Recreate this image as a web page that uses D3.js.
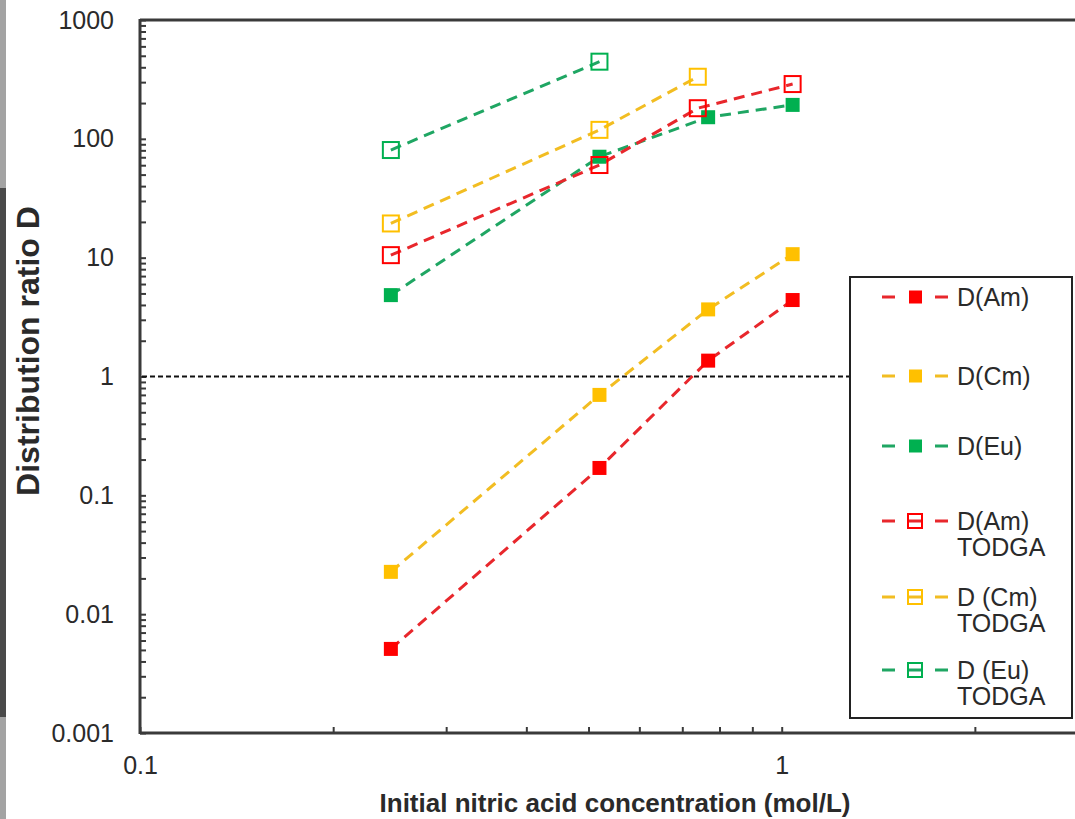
<!DOCTYPE html>
<html>
<head>
<meta charset="utf-8">
<script src="https://cdn.jsdelivr.net/npm/d3@7"></script>
<style>
  html, body { margin: 0; padding: 0; background: #fff; }
  svg { display: block; font-family: "Liberation Sans", Arial, sans-serif; }
</style>
</head>
<body>
<svg id="chart" width="1075" height="819"></svg>
<script>
// ---- data ----
const xFilled = [0.246, 0.52, 0.768, 1.04];
const dAm = [0.0051, 0.17, 1.36, 4.4];
const dCm = [0.0227, 0.70, 3.67, 10.7];
const dEu = [4.84, 70.7, 152, 193];
const xAmTodga = [0.246, 0.52, 0.74, 1.04];
const dAmTodga = [10.5, 60.2, 181, 289];
const xCmTodga = [0.246, 0.52, 0.74];
const dCmTodga = [19.4, 119, 333];
const xEuTodga = [0.246, 0.52];
const dEuTodga = [80.5, 446];

const seriesNames = ["D(Am)", "D(Cm)", "D(Eu)", "D(Am)\nTODGA", "D (Cm)\nTODGA", "D (Eu)\nTODGA"];
const yTickLabels = ["0.001", "0.01", "0.1", "1", "10", "100", "1000"];
const xTickLabels = ["0.1", "1"];
const refLine = 1;

const xTitle = "Initial nitric acid concentration (mol/L)";
const yTitle = "Distribution ratio D";

// ---- styling ----
const colRed = "#ff0000", colGold = "#ffc000", colGreen = "#00b050";
const lineRed = "#e8272c", lineGold = "#f2bd22", lineGreen = "#1fa663";

const series = [
  { name: seriesNames[0], xs: xFilled, ys: dAm, color: colRed, line: lineRed, open: false },
  { name: seriesNames[1], xs: xFilled, ys: dCm, color: colGold, line: lineGold, open: false },
  { name: seriesNames[2], xs: xFilled, ys: dEu, color: colGreen, line: lineGreen, open: false },
  { name: seriesNames[3], xs: xAmTodga, ys: dAmTodga, color: colRed, line: lineRed, open: true },
  { name: seriesNames[4], xs: xCmTodga, ys: dCmTodga, color: colGold, line: lineGold, open: true },
  { name: seriesNames[5], xs: xEuTodga, ys: dEuTodga, color: colGreen, line: lineGreen, open: true }
];

const svg = d3.select("#chart");
const W = 1075, H = 819;
const mLeft = 140, mTop = 20, mBottom = 733;
const decadeX = 641.7;

const x = d3.scaleLog().domain([0.1, 10]).range([mLeft, mLeft + 2 * decadeX]);
const y = d3.scaleLog().domain([0.001, 1000]).range([mBottom, mTop]);

const axisColor = "#3a3a3a";
const textColor = "#2a2a2a";

// decorative edge bar at far left
svg.append("rect").attr("x", 0).attr("y", 0).attr("width", 6).attr("height", H).attr("fill", "#a3a3a3");
svg.append("rect").attr("x", 0).attr("y", 188).attr("width", 6).attr("height", 529).attr("fill", "#4a4a4a");

// ---- axes ----
const yMajor = yTickLabels.map(Number);
const yMinor = [];
for (let e = -3; e < 3; e++) for (let m = 2; m <= 9; m++) yMinor.push(m * Math.pow(10, e));
const xMajor = xTickLabels.map(Number);
const xMinor = [];
for (let e = -1; e < 1; e++) for (let m = 2; m <= 9; m++) xMinor.push(m * Math.pow(10, e));

const gy = svg.append("g").attr("transform", `translate(${mLeft},0)`);
gy.call(d3.axisLeft(y).tickValues(yMinor).tickSize(-6).tickSizeOuter(0).tickFormat(""));
gy.select(".domain").remove();
const gy2 = svg.append("g").attr("transform", `translate(${mLeft},0)`);
gy2.call(d3.axisLeft(y).tickValues(yMajor).tickSize(-6).tickSizeOuter(0).tickPadding(26)
  .tickFormat((d, i) => yTickLabels[i]));
gy2.select(".domain").remove();
gy2.selectAll("text").attr("font-size", 25).attr("fill", textColor).attr("font-family", "'Liberation Sans', Arial, sans-serif");

const gx = svg.append("g").attr("transform", `translate(0,${mBottom})`);
gx.call(d3.axisBottom(x).tickValues(xMinor).tickSize(-6).tickSizeOuter(0).tickFormat(""));
gx.select(".domain").remove();
const gx2 = svg.append("g").attr("transform", `translate(0,${mBottom})`);
gx2.call(d3.axisBottom(x).tickValues(xMajor).tickSize(-6).tickSizeOuter(0).tickPadding(23)
  .tickFormat((d, i) => xTickLabels[i]));
gx2.select(".domain").remove();
gx2.selectAll("text").attr("font-size", 25).attr("fill", textColor).attr("font-family", "'Liberation Sans', Arial, sans-serif");
svg.selectAll(".tick line").attr("stroke", axisColor).attr("stroke-width", 2);

// axis frame lines
svg.append("line").attr("x1", mLeft).attr("x2", mLeft).attr("y1", mTop - 1).attr("y2", mBottom + 1)
  .attr("stroke", axisColor).attr("stroke-width", 3);
svg.append("line").attr("x1", mLeft).attr("x2", W).attr("y1", mBottom).attr("y2", mBottom)
  .attr("stroke", axisColor).attr("stroke-width", 3);
svg.append("line").attr("x1", mLeft).attr("x2", W).attr("y1", mTop).attr("y2", mTop)
  .attr("stroke", axisColor).attr("stroke-width", 3);

// reference line at D = 1
svg.append("line").attr("x1", mLeft + 2).attr("x2", 850).attr("y1", y(refLine)).attr("y2", y(refLine))
  .attr("stroke", "#111").attr("stroke-width", 2).attr("stroke-dasharray", "5,3");

// ---- series ----
const lineGen = d3.line().x(d => x(d[0])).y(d => y(d[1]));
series.forEach(s => {
  const pts = s.xs.map((v, i) => [v, s.ys[i]]);
  svg.append("path").datum(pts).attr("d", lineGen)
    .attr("fill", "none").attr("stroke", s.line).attr("stroke-width", 3)
    .attr("stroke-dasharray", "11,7");
});
series.forEach(s => {
  const pts = s.xs.map((v, i) => [v, s.ys[i]]);
  const g = svg.append("g");
  if (s.open) {
    g.selectAll("rect").data(pts).enter().append("rect")
      .attr("x", d => x(d[0]) - 8).attr("y", d => y(d[1]) - 8)
      .attr("width", 16).attr("height", 16)
      .attr("fill", "none").attr("stroke", s.color).attr("stroke-width", 2);
  } else {
    g.selectAll("rect").data(pts).enter().append("rect")
      .attr("x", d => x(d[0]) - 7).attr("y", d => y(d[1]) - 7)
      .attr("width", 14).attr("height", 14)
      .attr("fill", s.color);
  }
});

// ---- legend ----
const lg = svg.append("g");
lg.append("rect").attr("x", 850).attr("y", 277).attr("width", 222).attr("height", 441)
  .attr("fill", "#fff").attr("stroke", "#222").attr("stroke-width", 2);
const legendY = [297, 376, 446, 521, 597, 670];
series.forEach((s, i) => {
  const cy = legendY[i];
  lg.append("line").attr("x1", 882).attr("x2", 948).attr("y1", cy).attr("y2", cy)
    .attr("stroke", s.line).attr("stroke-width", 3)
    .attr("stroke-dasharray", s.open ? "13,13,14,13,13" : "13,40,13");
  if (s.open) {
    lg.append("rect").attr("x", 908).attr("y", cy - 7).attr("width", 14).attr("height", 14)
      .attr("fill", "none").attr("stroke", s.color).attr("stroke-width", 2);
  } else {
    lg.append("rect").attr("x", 909).attr("y", cy - 6.5).attr("width", 13).attr("height", 13)
      .attr("fill", s.color);
  }
  const lines = s.name.split("\n");
  lines.forEach((t, k) => {
    lg.append("text").attr("x", 957).attr("y", cy + k * 26).attr("dy", "0.35em")
      .attr("font-size", 25).attr("fill", textColor).text(t);
  });
});

// ---- titles ----
svg.append("text").attr("x", 615).attr("y", 812).attr("text-anchor", "middle")
  .attr("font-size", 26).attr("font-weight", "bold").attr("fill", textColor).text(xTitle);
svg.append("text").attr("transform", "translate(39,351) rotate(-90)").attr("text-anchor", "middle")
  .attr("font-size", 32).attr("font-weight", "bold").attr("fill", textColor).text(yTitle);
</script>
</body>
</html>
